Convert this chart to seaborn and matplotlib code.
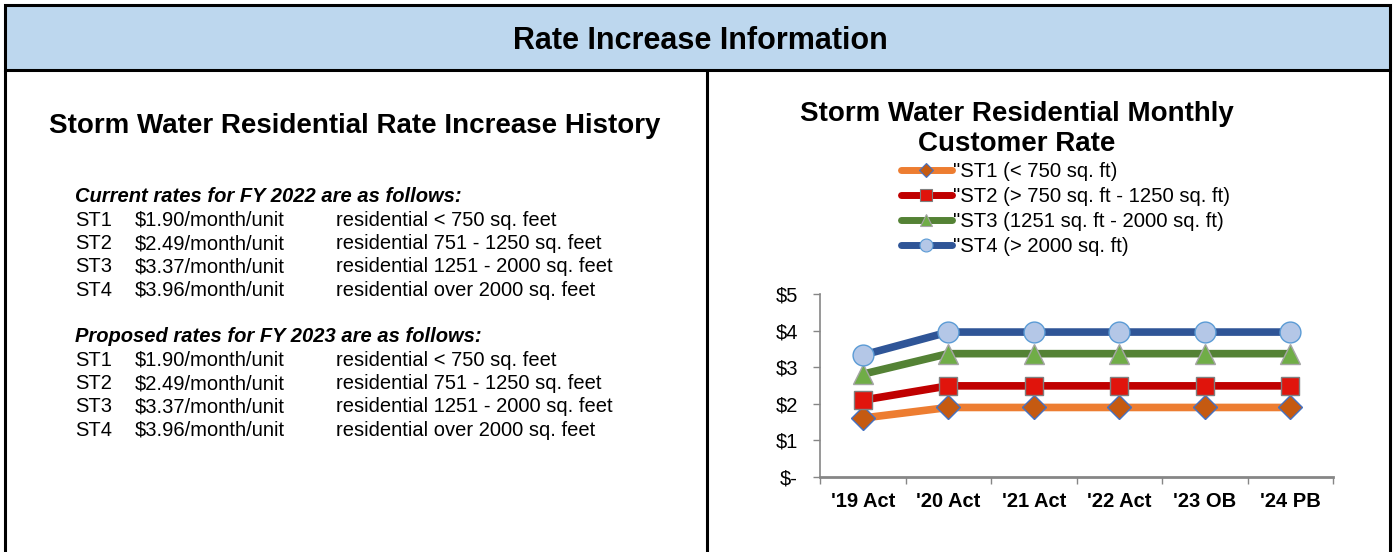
import matplotlib
matplotlib.use("Agg")
import matplotlib.pyplot as plt
import pandas as pd
import seaborn as sns
from matplotlib.lines import Line2D
from matplotlib.patches import Rectangle

# ------------------------------------------------------------------
# Data
# ------------------------------------------------------------------
anos = ["'19 Act", "'20 Act", "'21 Act", "'22 Act", "'23 OB", "'24 PB"]
st1 = [1.61, 1.90, 1.90, 1.90, 1.90, 1.90]
st2 = [2.10, 2.49, 2.49, 2.49, 2.49, 2.49]
st3 = [2.81, 3.37, 3.37, 3.37, 3.37, 3.37]
st4 = [3.33, 3.96, 3.96, 3.96, 3.96, 3.96]
series_names = ['"ST1 (< 750 sq. ft)', '"ST2 (> 750 sq. ft - 1250 sq. ft)',
                '"ST3 (1251 sq. ft - 2000 sq. ft)', '"ST4 (> 2000 sq. ft)']
y_ticks = [0, 1, 2, 3, 4, 5]
y_labels = ["$-", "$1", "$2", "$3", "$4", "$5"]

codes = ["ST1", "ST2", "ST3", "ST4"]
rates = ["$1.90/month/unit", "$2.49/month/unit", "$3.37/month/unit", "$3.96/month/unit"]
descs = ["residential < 750 sq. feet", "residential 751 - 1250 sq. feet",
         "residential 1251 - 2000 sq. feet", "residential over 2000 sq. feet"]

df = pd.DataFrame({
    "ano": anos * 4,
    "taxa": st1 + st2 + st3 + st4,
    "serie": sum([[n] * len(anos) for n in series_names], []),
})

# styles: line colour, marker, face, edge, size
estilos = [
    ("#ED7D31", "D", "#C55A11", "#4472C4", 12),
    ("#C00000", "s", "#E0140C", "#7F7F7F", 13),
    ("#548235", "^", "#70AD47", "#A5A5A5", 14),
    ("#2F5597", "o", "#B4C7E7", "#5B9BD5", 15),
]

# ------------------------------------------------------------------
# Figure
# ------------------------------------------------------------------
sns.set_style("white")
plt.rcParams["font.family"] = ["Liberation Sans", "DejaVu Sans"]
plt.rcParams["text.color"] = "black"
plt.rcParams["xtick.color"] = "black"
plt.rcParams["ytick.color"] = "black"

W, H = 1393, 552
fig = plt.figure(figsize=(W / 100, H / 100), dpi=100)


def fx(px):
    return px / W


def fy(py):
    return 1 - py / H


# header band and panel borders
fig.add_artist(Rectangle((fx(5), fy(70)), fx(1385), 65 / H, transform=fig.transFigure,
                         facecolor="#BDD7EE", edgecolor="black", linewidth=2.2))
for x in [5, 707, 1390]:
    fig.add_artist(Line2D([fx(x), fx(x)], [fy(70), 0], transform=fig.transFigure,
                          color="black", linewidth=2.2))

fig.text(fx(700), fy(41), "Rate Increase Information", ha="center", va="center",
         fontsize=22, weight="bold")

# left panel text
fig.text(fx(355), fy(126), "Storm Water Residential Rate Increase History", ha="center",
         va="center", fontsize=20, weight="bold")

bloco_y = [(197, "Current rates for FY 2022 are as follows:"),
           (337, "Proposed rates for FY 2023 are as follows:")]
for y0, cab in bloco_y:
    fig.text(fx(75), fy(y0), cab, ha="left", va="center", fontsize=14.5,
             weight="bold", style="italic")
    for i in range(4):
        yy = fy(y0 + 23.3 * (i + 1))
        fig.text(fx(75), yy, codes[i], ha="left", va="center", fontsize=14.5)
        fig.text(fx(135), yy, rates[i], ha="left", va="center", fontsize=14.5)
        fig.text(fx(336), yy, descs[i], ha="left", va="center", fontsize=14.5)

# right panel chart
fig.text(fx(1017), fy(129), "Storm Water Residential Monthly\nCustomer Rate", ha="center",
         va="center", fontsize=20, weight="bold", linespacing=1.22)

ax = fig.add_axes([fx(820), fy(477), (1333 - 820) / W, (477 - 294) / H])
handles = []
for nome, (cor, mk, face, borda, ms) in zip(series_names, estilos):
    sub = df[df["serie"] == nome]
    sns.lineplot(data=sub, x="ano", y="taxa", color=cor, marker=mk, markersize=ms,
                 markerfacecolor=face, markeredgecolor=borda, markeredgewidth=1.0,
                 linewidth=5.5, ax=ax, sort=False)
    handles.append(Line2D([], [], color=cor, marker=mk, markersize=ms * 0.62,
                          markerfacecolor=face, markeredgecolor=borda,
                          markeredgewidth=0.8, linewidth=5, solid_capstyle="round"))

ax.set_xlim(-0.5, len(anos) - 0.5)
ax.set_ylim(0, 5)
ax.set_yticks(y_ticks)
ax.set_yticklabels(y_labels, fontsize=14.5)
ax.set_xticks(range(len(anos)))
ax.set_xticklabels(anos, fontsize=14.5, weight="bold")
ax.set_xticks([i - 0.5 for i in range(len(anos) + 1)], minor=True)
ax.tick_params(axis="x", which="major", bottom=True, length=0, pad=11)
ax.tick_params(axis="x", which="minor", bottom=True, length=5, width=1,
               color="#868686", direction="out")
ax.tick_params(axis="y", left=True, length=5, width=1, color="#868686",
               direction="out", pad=11)
ax.set_xlabel("")
ax.set_ylabel("")
for s in ["top", "right"]:
    ax.spines[s].set_visible(False)
ax.spines["left"].set_color("#868686")
ax.spines["left"].set_linewidth(1.2)
ax.spines["bottom"].set_color("#868686")
ax.spines["bottom"].set_linewidth(2)
ax.grid(False)
if ax.get_legend():
    ax.get_legend().remove()

fig.legend(handles, series_names, loc="upper left", bbox_to_anchor=(fx(901), fy(162)),
           frameon=False, fontsize=14.6, handlelength=2.5, handletextpad=0.08,
           labelspacing=0.29, borderaxespad=0, borderpad=0)

fig.savefig("out.png", dpi=100)
